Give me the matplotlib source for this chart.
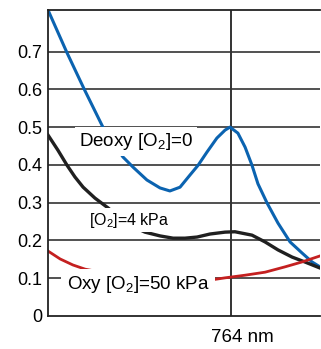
import numpy as np
import matplotlib.pyplot as plt

plt.rcParams['font.family'] = ['Liberation Sans', 'DejaVu Sans']
plt.rcParams['mathtext.fontset'] = 'custom'
plt.rcParams['mathtext.rm'] = 'Liberation Sans'
plt.rcParams['mathtext.default'] = 'regular'

# absorption spectra (wavelength nm, absorbance)
deoxy_x = [690, 697.6, 704.6, 712.2, 716.3, 720.3, 724.4, 730.0, 735.3, 739.3, 743.4, 747.4, 750.7,
           754.3, 758.3, 761.6, 763.6, 766.8, 769.7, 772.5, 774.9, 778.6, 783.0, 787.9, 792.7, 796.8, 800]
deoxy_y = [0.810, 0.698, 0.601, 0.500, 0.460, 0.421, 0.394, 0.360, 0.339, 0.331, 0.341, 0.373, 0.399,
           0.434, 0.471, 0.492, 0.500, 0.484, 0.447, 0.399, 0.350, 0.299, 0.246, 0.196, 0.167, 0.143, 0.130]

mid_x = [690, 694.0, 697.7, 700.9, 704.2, 709.0, 714.3, 721.5, 729.2, 735.3, 740.6, 745.4, 750.3,
         755.5, 761.6, 765.6, 772.5, 777.8, 783.0, 788.7, 793.9, 800]
mid_y = [0.479, 0.439, 0.399, 0.368, 0.341, 0.312, 0.286, 0.246, 0.222, 0.212, 0.206, 0.206, 0.209,
         0.217, 0.222, 0.223, 0.214, 0.196, 0.175, 0.156, 0.143, 0.127]

oxy_x = [690, 694.9, 700.1, 705.0, 709.0, 731.2, 755.5, 761.6, 769.7, 777.8, 785.8, 792.7, 800]
oxy_y = [0.172, 0.151, 0.135, 0.124, 0.119, 0.098, 0.095, 0.101, 0.108, 0.116, 0.130, 0.143, 0.159]

yticks = [0, 0.1, 0.2, 0.3, 0.4, 0.5, 0.6, 0.7]
ytick_labels = ['0', '0.1', '0.2', '0.3', '0.4', '0.5', '0.6', '0.7']
peak_nm = 764

fig = plt.figure(figsize=(3.21, 3.49), dpi=100)
ax = fig.add_axes([48/321, 1 - 316/349, 272/321, 306/349])

ax.set_xlim(690, 800)
ax.set_ylim(0, 0.81)

# grid
for v in yticks[1:]:
    ax.axhline(v, color='#222222', lw=1.1, zorder=1)
ax.axvline(peak_nm, color='#333333', lw=1.4, zorder=1)

ax.plot(deoxy_x, deoxy_y, color='#0b63b0', lw=2.2, zorder=2, solid_joinstyle='round')
ax.plot(mid_x, mid_y, color='#202020', lw=2.4, zorder=2, solid_joinstyle='round')
ax.plot(oxy_x, oxy_y, color='#c42020', lw=2.0, zorder=2, solid_joinstyle='round')

ax.text(725.6, 0.462, 'Deoxy [O$_2$]=0', fontsize=13.5, ha='center', va='center',
        bbox=dict(facecolor='white', edgecolor='none', boxstyle='square,pad=0.2'), zorder=3)
ax.text(722.8, 0.254, '[O$_2$]=4 kPa', fontsize=11.5, ha='center', va='center',
        bbox=dict(facecolor='white', edgecolor='none', boxstyle='square,pad=0.15'), zorder=3)
ax.text(726.4, 0.083, 'Oxy [O$_2$]=50 kPa', fontsize=13.5, ha='center', va='center',
        bbox=dict(facecolor='white', edgecolor='none', boxstyle='square,pad=0.3'), zorder=3)

ax.set_yticks(yticks)
ax.set_yticklabels(ytick_labels, fontsize=13)
ax.set_xticks([])
ax.tick_params(axis='y', length=0, pad=4)
ax.annotate('764 nm', xy=(peak_nm, 0), xytext=(11, -22), textcoords='offset pixels',
            ha='center', va='center', fontsize=13.5, annotation_clip=False)

for s in ['left', 'bottom', 'top']:
    ax.spines[s].set_linewidth(1.3)
    ax.spines[s].set_color('#222222')
ax.spines['right'].set_visible(False)

fig.savefig('out.png', dpi=100)
